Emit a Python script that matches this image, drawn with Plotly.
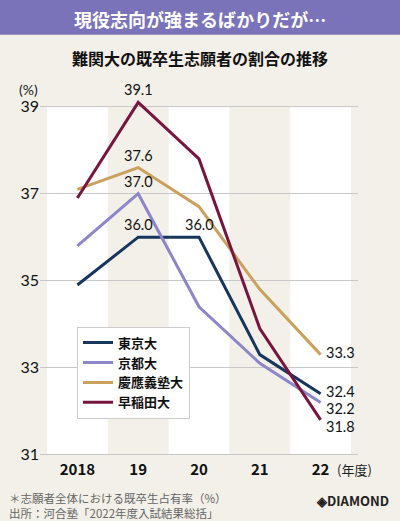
import plotly.graph_objects as go

years = ["2018", "19", "20", "21", "22"]
series_names = ["東京大", "京都大", "慶應義塾大", "早稲田大"]
tokyo = [34.9, 36.0, 36.0, 33.3, 32.4]
kyoto = [35.8, 37.0, 34.4, 33.1, 32.2]
keio = [37.1, 37.6, 36.7, 34.8, 33.3]
waseda = [36.9, 39.1, 37.8, 33.9, 31.8]
colors = ["#17365d", "#8d86c9", "#c9a15c", "#76163f"]
yticks = [31, 33, 35, 37, 39]
yrange = [30.9, 39.2]

FONT = "Noto Sans CJK JP"
NUMFONT = "Lato"
BG = "#f2f0e8"
W, H = 400, 521
L, R = 40, 42
T, B = 98.3, 61.65
PW, PH = W - L - R, H - T - B


def px(x):
    return (x - L) / PW


def py(y):
    return (H - B - y) / PH


fig = go.Figure()
xs = list(range(len(years)))
for name, vals, col in zip(series_names, [tokyo, kyoto, keio, waseda], colors):
    fig.add_trace(go.Scatter(x=xs, y=vals, mode="lines", name=f"<b>{name}</b>",
                             line=dict(color=col, width=3), hoverinfo="skip"))

# title band
fig.add_shape(type="rect", xref="paper", yref="paper", x0=px(-5), x1=px(405),
              y0=py(35), y1=py(-5), fillcolor="#7b73b9",
              line=dict(width=0), layer="below")
# white alternating columns
for i in range(0, len(years), 2):
    fig.add_shape(type="rect", xref="x", yref="y", x0=i - 0.5, x1=i + 0.5,
                  y0=yticks[0], y1=yticks[-1], fillcolor="white",
                  line=dict(width=0), layer="below")

LBL = dict(size=14.5, color="#111", family=NUMFONT)
ann = []
for vals in [waseda, keio, kyoto, tokyo]:
    ann.append(dict(x=1, y=vals[1], text=f"{vals[1]:.1f}", showarrow=False,
                    xref="x", yref="y", yanchor="bottom", yshift=2, font=LBL))
ann.append(dict(x=2, y=tokyo[2], text=f"{tokyo[2]:.1f}", showarrow=False,
                xref="x", yref="y", yanchor="bottom", yshift=2, font=LBL))
for vals, ys in [(keio, 2), (tokyo, 2), (kyoto, -6), (waseda, -7)]:
    ann.append(dict(x=4, y=vals[4], text=f"{vals[4]:.1f}", showarrow=False,
                    xref="x", yref="y", xanchor="left", xshift=3, yshift=ys,
                    font=LBL))
ann.append(dict(x=px(28), y=py(90), xref="paper", yref="paper",
                text="(%)", showarrow=False,
                font=dict(size=14, color="#222", family=NUMFONT),
                xanchor="center", yanchor="middle"))
ann.append(dict(x=4, y=py(470), xref="x", yref="paper", text="(年度)",
                showarrow=False, xanchor="left", yanchor="middle", xshift=14,
                font=dict(size=13, color="#222")))
ann.append(dict(x=px(200), y=py(19), xref="paper", yref="paper",
                text="<b>現役志向が強まるばかりだが…</b>", showarrow=False,
                font=dict(size=18, color="white"), xanchor="center",
                yanchor="middle"))
ann.append(dict(x=px(200), y=py(58), xref="paper", yref="paper",
                text="<b>難関大の既卒生志願者の割合の推移</b>", showarrow=False,
                font=dict(size=16, color="#111"), xanchor="center",
                yanchor="middle"))
ann.append(dict(x=px(7), y=py(506), xref="paper", yref="paper",
                text="＊志願者全体における既卒生占有率（%）<br>出所：河合塾「2022年度入試結果総括」",
                showarrow=False, align="left", xanchor="left", yanchor="middle",
                font=dict(size=11.5, color="#666")))
ann.append(dict(x=px(391), y=py(501), xref="paper", yref="paper",
                text="<b>◈DIAMOND</b>", showarrow=False, xanchor="right",
                yanchor="middle", font=dict(size=13, color="#222")))

fig.update_layout(
    width=W, height=H,
    margin=dict(l=L, r=R, t=T, b=B, autoexpand=False),
    paper_bgcolor=BG, plot_bgcolor=BG,
    font=dict(family=FONT, color="#222"),
    showlegend=True,
    hovermode=False,
    legend=dict(x=px(77), y=py(327), xanchor="left", yanchor="top",
                bgcolor="white", bordercolor="#cccccc", borderwidth=1,
                font=dict(size=13, color="#111", family=FONT),
                tracegroupgap=0, itemwidth=30),
    annotations=ann,
    xaxis=dict(range=[-0.615, 4.615], tickmode="array", tickvals=xs,
               ticktext=[f"<b>{y}</b>" for y in years], showgrid=False,
               zeroline=False, showline=False, ticks="",
               tickfont=dict(size=15, color="#111"), fixedrange=True),
    yaxis=dict(range=yrange, tickmode="array", tickvals=yticks,
               ticktext=[str(v) for v in yticks], showgrid=True,
               gridcolor="#c8c8c8", gridwidth=1, zeroline=False,
               showline=False, ticks="",
               tickfont=dict(size=16, color="#111", family=NUMFONT),
               fixedrange=True),
)

fig.write_html("out.html", config={"displayModeBar": False},
               post_script="document.body.style.margin='0';document.body.style.overflow='hidden';")
